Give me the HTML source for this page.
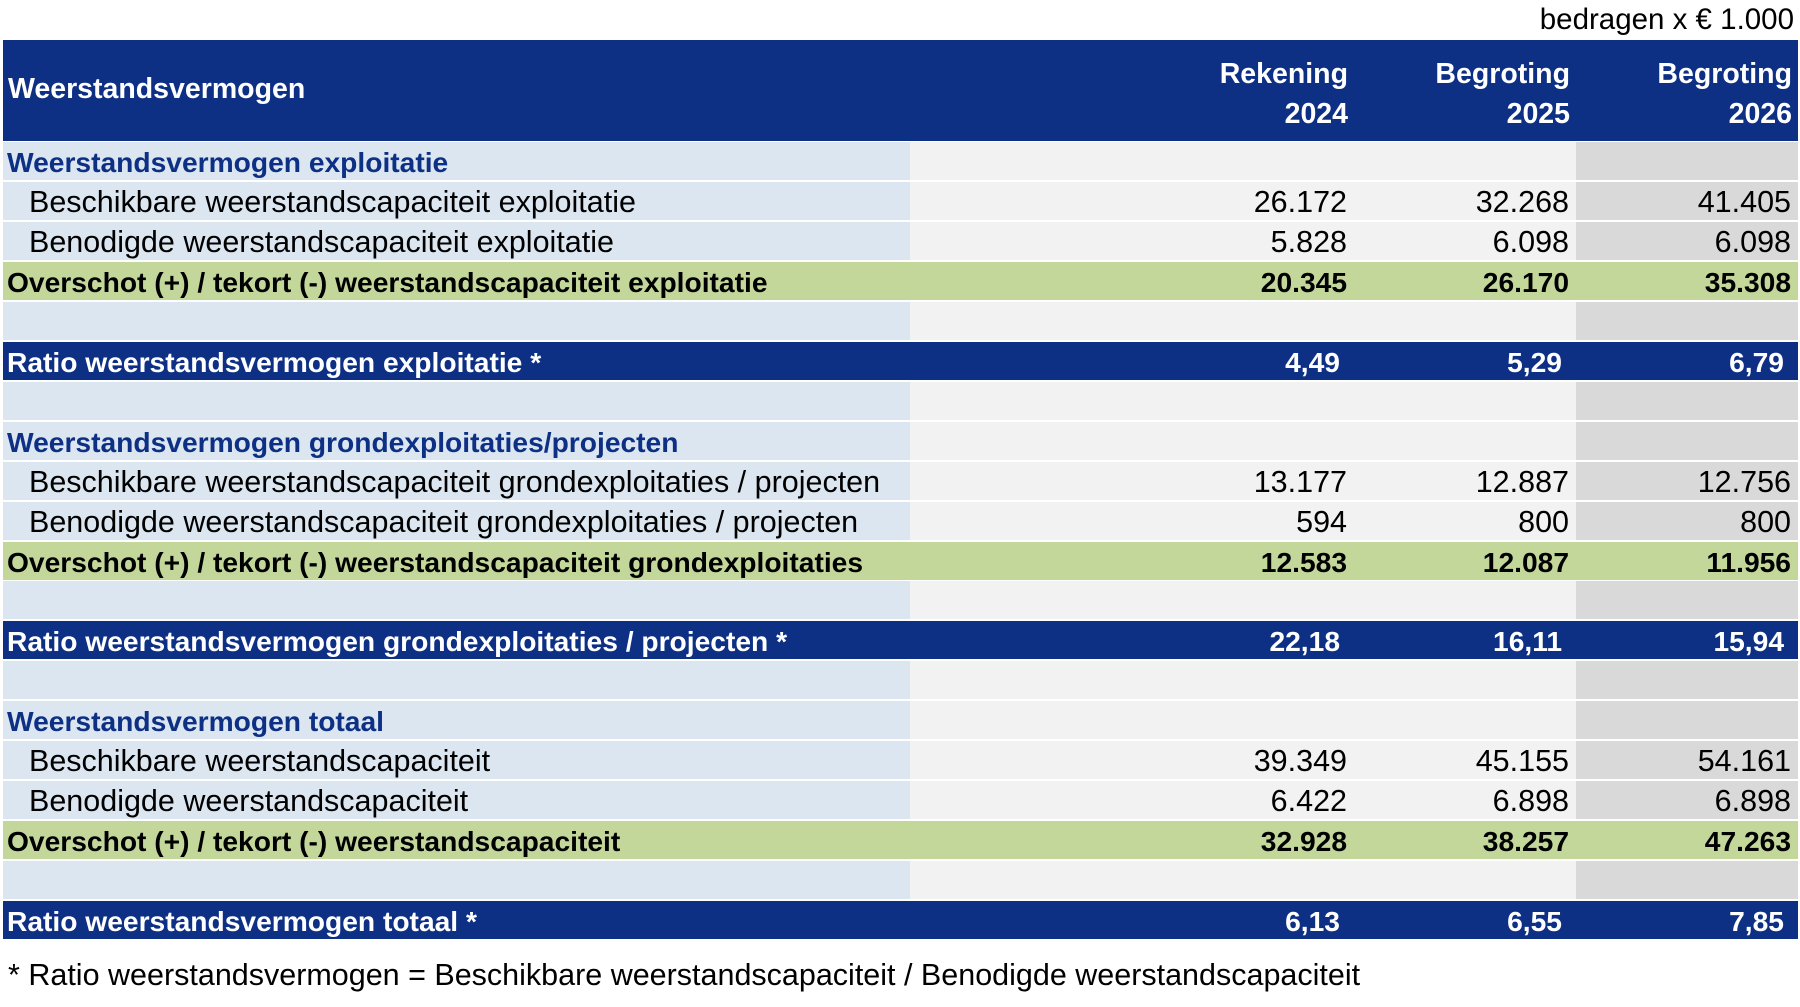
<!DOCTYPE html>
<html><head><meta charset="utf-8"><style>
body{margin:0;width:1800px;height:1007px;background:#fff;position:relative;overflow:hidden;font-family:"Liberation Sans",Arial,sans-serif;}
.r{position:absolute;left:3px;width:1795px;height:38px;}
.c{position:absolute;top:0;height:38px;}
.c1{left:0;width:907px;background:#dce6f1}
.c2{left:907px;width:666px;background:#f2f2f2}
.c3{left:1573px;width:222px;background:#d9d9d9}
.t{position:absolute;top:0;line-height:41px;font-size:30.5px;white-space:nowrap;color:#000}
.n{position:absolute;top:0;line-height:41px;font-size:30.5px;text-align:right;white-space:nowrap}
.g{background:#c4d79b}
.b{background:#0d3085}
.b .t,.b .n{color:#fff;font-weight:bold;font-size:28.2px}
.g .t,.g .n{font-weight:bold;font-size:28.2px}
.s{color:#0d3085!important;font-weight:bold;font-size:28.2px!important}
</style></head><body>
<div style="position:absolute;right:6px;top:3px;font-size:29.5px;">bedragen x € 1.000</div>
<div style="position:absolute;left:3px;top:40px;width:1795px;height:101px;background:#0d3085;color:#fff;font-weight:bold;font-size:28.5px;">
<div style="position:absolute;left:5px;top:33px">Weerstandsvermogen</div>
<div style="position:absolute;right:450px;top:14px;text-align:right;line-height:40px">Rekening<br>2024</div>
<div style="position:absolute;right:228px;top:14px;text-align:right;line-height:40px">Begroting<br>2025</div>
<div style="position:absolute;right:6px;top:14px;text-align:right;line-height:40px">Begroting<br>2026</div>
</div>
<div id="rows"></div>
<div style="position:absolute;left:8px;top:958px;font-size:30.5px;">* Ratio weerstandsvermogen = Beschikbare weerstandscapaciteit / Benodigde weerstandscapaciteit</div>
<script>
const rowLabels=["Weerstandsvermogen exploitatie","Beschikbare weerstandscapaciteit exploitatie","Benodigde weerstandscapaciteit exploitatie","Overschot (+) / tekort (-) weerstandscapaciteit exploitatie","","Ratio weerstandsvermogen exploitatie *","","Weerstandsvermogen grondexploitaties/projecten","Beschikbare weerstandscapaciteit grondexploitaties / projecten","Benodigde weerstandscapaciteit grondexploitaties / projecten","Overschot (+) / tekort (-) weerstandscapaciteit grondexploitaties","","Ratio weerstandsvermogen grondexploitaties / projecten *","","Weerstandsvermogen totaal","Beschikbare weerstandscapaciteit","Benodigde weerstandscapaciteit","Overschot (+) / tekort (-) weerstandscapaciteit","","Ratio weerstandsvermogen totaal *"];
const rowTypes=["s","i","i","g","e","b","e","s","i","i","g","e","b","e","s","i","i","g","e","b"];
const v2024=["","26.172","5.828","20.345","","4,49","","","13.177","594","12.583","","22,18","","","39.349","6.422","32.928","","6,13"];
const v2025=["","32.268","6.098","26.170","","5,29","","","12.887","800","12.087","","16,11","","","45.155","6.898","38.257","","6,55"];
const v2026=["","41.405","6.098","35.308","","6,79","","","12.756","800","11.956","","15,94","","","54.161","6.898","47.263","","7,85"];
const host=document.getElementById('rows');
rowLabels.forEach((lab,i)=>{
  const ty=rowTypes[i];
  const r=document.createElement('div');
  
  
  r.className='r'+(ty==='g'?' g':ty==='b'?' b':'');
  r.style.top=(142+i*39.95)+'px';
  let h='';
  if(ty!=='g'&&ty!=='b') h+='<div class="c c1"></div><div class="c c2"></div><div class="c c3"></div>';
  const x=(ty==='i')?26:4;
  h+='<div class="t'+(ty==='s'?' s':'')+'" style="left:'+x+'px">'+lab+'</div>';
  const off=(ty==='b')?7:0;
  const vals=[v2024[i],v2025[i],v2026[i]];const rights=[451,229,7];
  vals.forEach((v,k)=>{h+='<div class="n" style="right:'+(rights[k]+off)+'px">'+v+'</div>';});
  r.innerHTML=h;
  host.appendChild(r);
});
</script>
</body></html>
